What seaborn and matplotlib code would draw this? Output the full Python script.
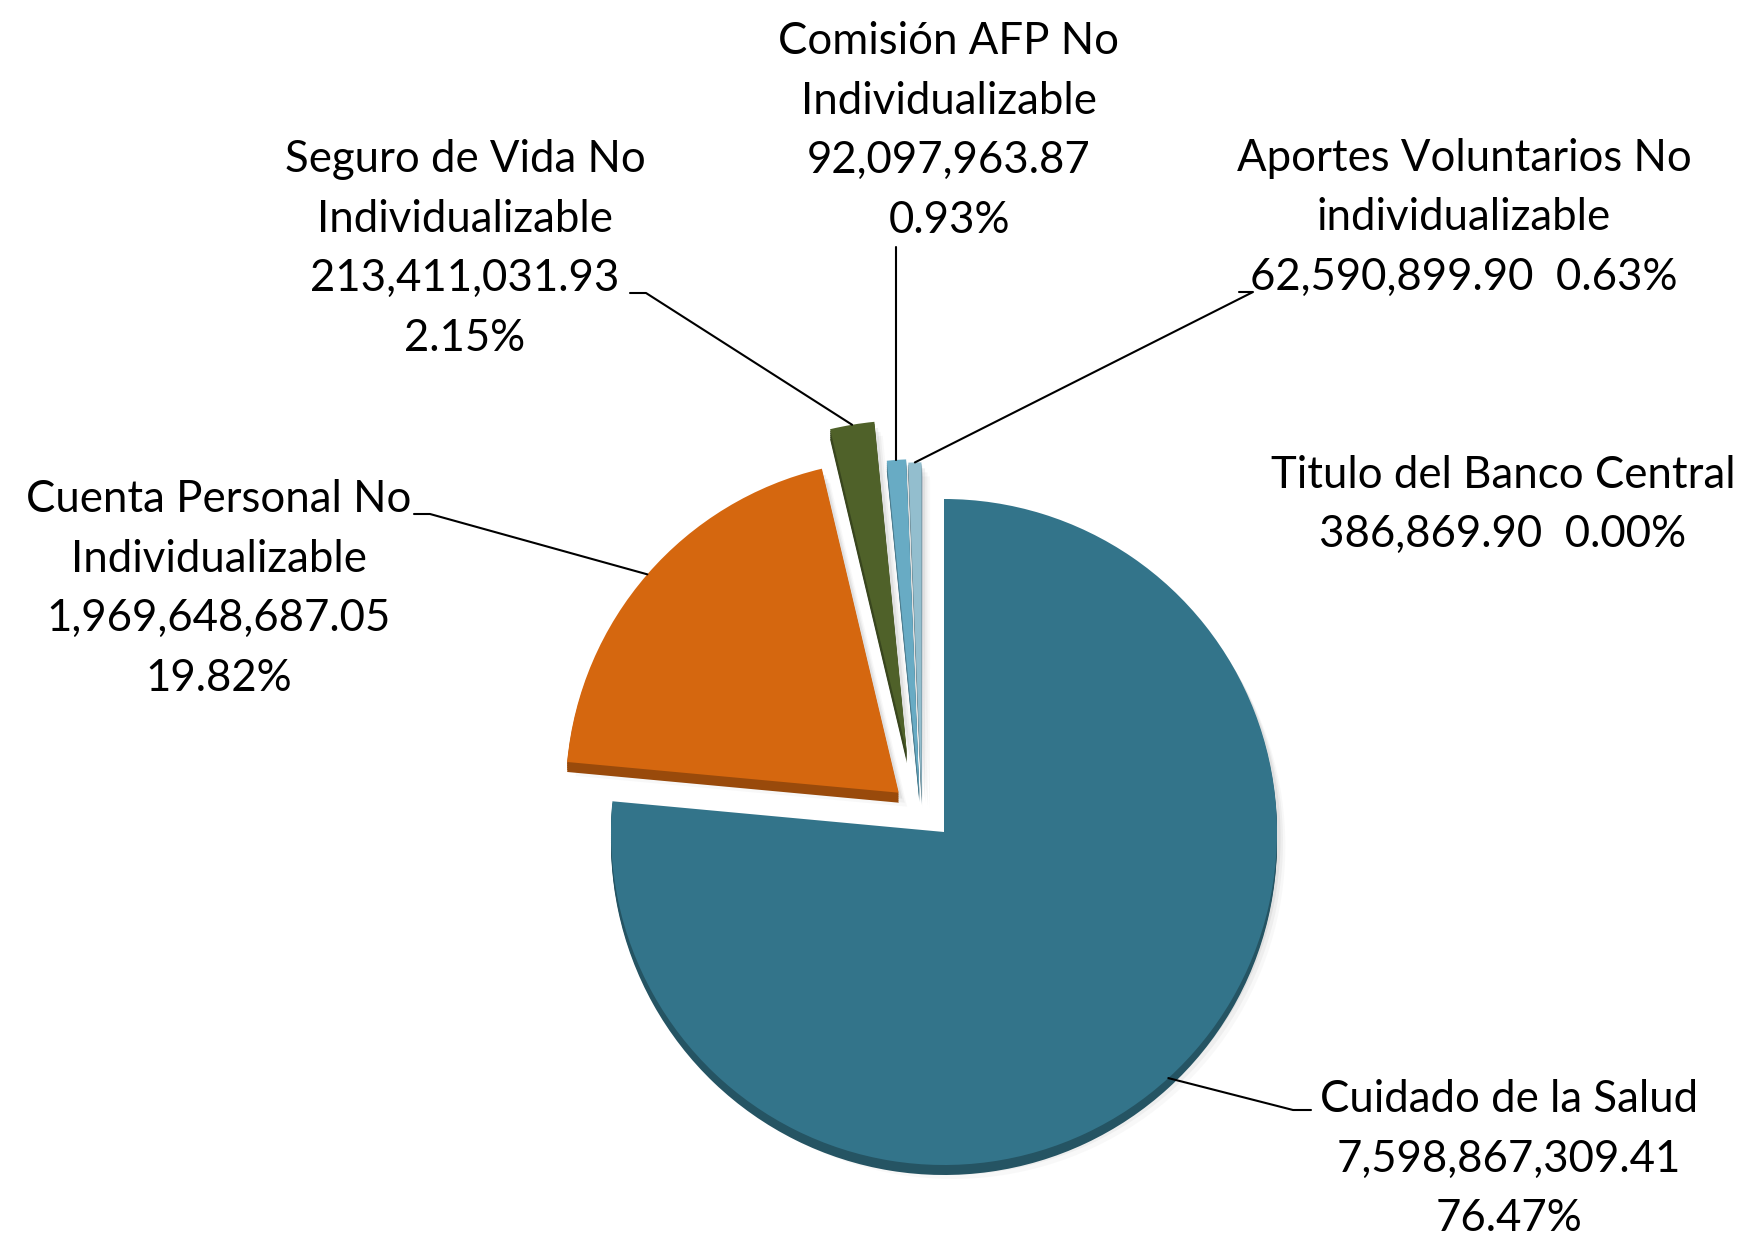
import numpy as np
import matplotlib
matplotlib.use("Agg")
import matplotlib.pyplot as plt
import seaborn as sns
from matplotlib.colors import to_rgb

# Distribution of balances by concept
categories = [
    "Cuidado de la Salud",
    "Cuenta Personal No\nIndividualizable",
    "Seguro de Vida No\nIndividualizable",
    "Comisión AFP No\nIndividualizable",
    "Aportes Voluntarios No\nindividualizable",
    "Titulo del Banco Central",
]
amounts = [
    7598867309.41,
    1969648687.05,
    213411031.93,
    92097963.87,
    62590899.90,
    386869.90,
]
colors = ["#33748A", "#D5670F", "#4F6129", "#68ABC4", "#93BECE", "#B9CDE5"]
# amount and percent on one line for these labels
inline_value = [False, False, False, False, True, True]

sns.set_theme(style="white")
plt.rcParams["font.family"] = ["Lato", "DejaVu Sans"]

W, H = 1746, 1238
fig = plt.figure(figsize=(W / 100, H / 100), dpi=100)
ax = fig.add_axes([0, 0, 1, 1])

R = 333
center = (944, H - 832)
explode_frac = [0.0, 0.18, 0.25, 0.13, 0.12, 0.11]
explode = [e * R for e in explode_frac]
# extra sideways nudge of the thin slices (in radius units)
nudge = [(0, 0), (0, 0), (-0.07, -0.01), (-0.065, -0.01), (-0.065, -0.01), (-0.065, -0.01)]


def darker(c, f):
    r, g, b = to_rgb(c)
    return (r * f, g * f, b * f)


def pie_layer(cols, dx=0.0, dy=0.0, **wprops):
    ws, _ = ax.pie(amounts, colors=cols, radius=R,
                   center=(center[0] + dx, center[1] + dy),
                   startangle=90, counterclock=False, explode=explode,
                   wedgeprops=dict(linewidth=0, **wprops))
    for w, (nx, ny) in zip(ws, nudge):
        cx, cy = w.center
        w.set_center((cx + nx * R, cy + ny * R))
    return ws


# soft drop shadow
for k, a in [(14, 0.05), (10, 0.08), (6, 0.12)]:
    pie_layer(["#808080"] * len(amounts), k * 0.6, -k, alpha=a)

# slice thickness (side face)
for d in range(10, 0, -2):
    pie_layer([darker(c, 0.72) for c in colors], 0, -d)

wedges = pie_layer(colors)

total = sum(amounts)
labels = []
for name, v, inl in zip(categories, amounts, inline_value):
    pct = f"{100 * v / total:.2f}%"
    if inl:
        labels.append(f"{name}\n{v:,.2f}  {pct}")
    else:
        labels.append(f"{name}\n{v:,.2f}\n{pct}")

# label block centres and leader elbows (figure pixels, y up)
text_pos = [(1509, H - 1159), (219, H - 589), (465, H - 249),
            (949, H - 131), (1464, H - 218), (1503, H - 505)]
elbows = [
    [(1293, H - 1110), (1311, H - 1110)],
    [(430, H - 514), (414, H - 514)],
    [(646, H - 293), (630, H - 293)],
    None,
    [(1253, H - 292), (1239, H - 292)],
    None,
]

for i, (w, lab) in enumerate(zip(wedges, labels)):
    ax.text(*text_pos[i], lab, ha="center", va="center", fontsize=31.5,
            linespacing=1.56, color="black", multialignment="center")
    th = np.deg2rad((w.theta1 + w.theta2) / 2)
    ax_, ay_ = w.center[0] + w.r * np.cos(th), w.center[1] + w.r * np.sin(th)
    if i == 3:
        ax.plot([ax_, ax_], [ay_, H - 247], color="black", lw=1.5)
    elif elbows[i] is not None:
        xs = [ax_] + [p[0] for p in elbows[i]]
        ys = [ay_] + [p[1] for p in elbows[i]]
        ax.plot(xs, ys, color="black", lw=1.5)

ax.set_xlim(0, W)
ax.set_ylim(0, H)
ax.set_aspect("equal")
ax.axis("off")
fig.savefig("out.png", dpi=100, facecolor="white")
